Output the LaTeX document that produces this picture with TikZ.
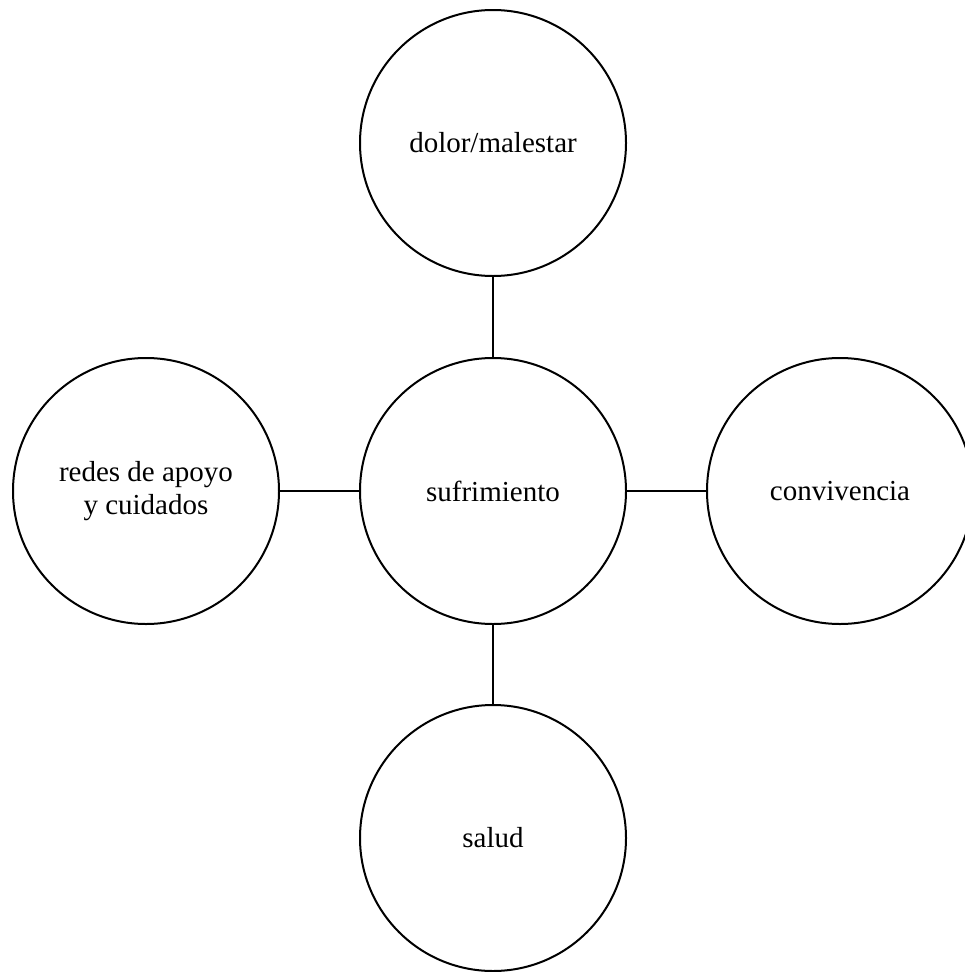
\documentclass[tikz,border=0pt]{standalone}
\usepackage{fontspec}
\setmainfont{Liberation Serif}
\begin{document}
\begin{tikzpicture}[x=1pt,y=-1pt,
  topic/.style={circle,draw=black,line width=2pt,minimum size=266pt,inner sep=0pt,
    font=\fontsize{29}{33}\selectfont,align=center},
  link/.style={draw=black,line width=2pt}]
\useasboundingbox (0,0) rectangle (965,972);
\node[topic] (c) at (493,491) {sufrimiento};
\node[topic] (t) at (493,143) {dolor/malestar};
\node[topic] (b) at (493,838) {salud};
\node[topic] (l) at (146,491) {redes de apoyo\\y cuidados};
\node[topic] (r) at (840,491) {convivencia};
\draw[link] (t) -- (c);
\draw[link] (c) -- (b);
\draw[link] (l) -- (c);
\draw[link] (c) -- (r);
\end{tikzpicture}
\end{document}
